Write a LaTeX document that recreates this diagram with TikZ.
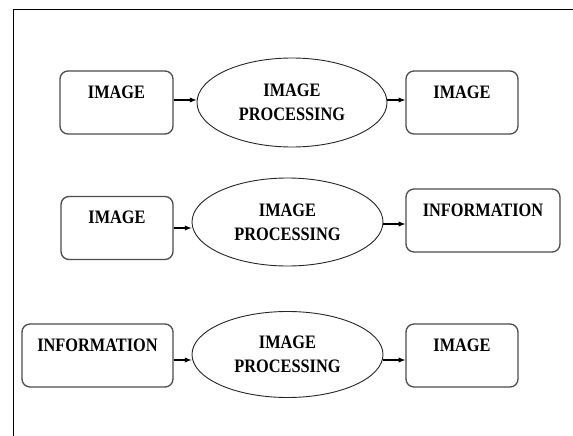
\documentclass[tikz,border=0pt]{standalone}
\usepackage{fontspec}
\newfontfamily\lblfont{Liberation Serif}[FakeStretch=0.86]
\usepackage{tikz}
\usetikzlibrary{shapes.geometric}

\tikzset{
  blk/.style={draw=black!70, line width=1.3pt, rounded corners=8pt,
    inner xsep=0pt, inner ysep=0pt, text height=27pt, text depth=36pt,
    font=\lblfont\bfseries\fontsize{19}{24}\selectfont},
  proc/.style={draw=black!85, line width=0.9pt, ellipse, inner sep=0pt,
    align=center, font=\lblfont\bfseries\fontsize{19}{24}\selectfont},
  arr/.style={-latex, line width=1.3pt}
}

\begin{document}
\begin{tikzpicture}[x=1pt, y=-1pt]
    \useasboundingbox (0,0) rectangle (573,436);
    % frame
    \draw[line width=1.2pt] (573,9.5) -- (13.3,9.5) -- (13.3,436);
    % image -> image
    \node[blk, minimum width=113pt, minimum height=63pt] (imgA) at (116.5,102.5) {IMAGE};
    \node[proc, minimum width=190pt, minimum height=89pt] (procA) at (292,102.5) {IMAGE\\PROCESSING};
    \node[blk, minimum width=112pt, minimum height=61pt] (imgB) at (462,102.5) {IMAGE};
    \draw[arr] ([yshift=2.5pt]imgA.east) -- ([yshift=2.5pt]imgA.east -| procA.west);
    \draw[arr] ([yshift=2.5pt]procA.east) -- ([yshift=2.5pt]procA.east -| imgB.west);
    % image -> information
    \node[blk, minimum width=112pt, minimum height=62pt] (imgC) at (117,228) {IMAGE};
    \node[proc, minimum width=191pt, minimum height=88pt] (procB) at (287.5,222) {IMAGE\\PROCESSING};
    \node[blk, minimum width=154pt, minimum height=63pt] (infoA) at (483,220.5) {INFORMATION};
    \draw[arr] (imgC.east) -- (imgC.east -| procB.west);
    \draw[arr] ([yshift=-2pt]procB.east) -- ([yshift=-2pt]procB.east -| infoA.west);
    % information -> image
    \node[blk, minimum width=151pt, minimum height=63pt] (infoB) at (97.5,355.5) {INFORMATION};
    \node[proc, minimum width=191pt, minimum height=86pt] (procC) at (287.5,354.5) {IMAGE\\PROCESSING};
    \node[blk, minimum width=112pt, minimum height=63pt] (imgD) at (462,355.5) {IMAGE};
    \draw[arr] ([yshift=-4.5pt]infoB.east) -- ([yshift=-4.5pt]infoB.east -| procC.west);
    \draw[arr] ([yshift=-5.5pt]procC.east) -- ([yshift=-5.5pt]procC.east -| imgD.west);
\end{tikzpicture}
\end{document}
